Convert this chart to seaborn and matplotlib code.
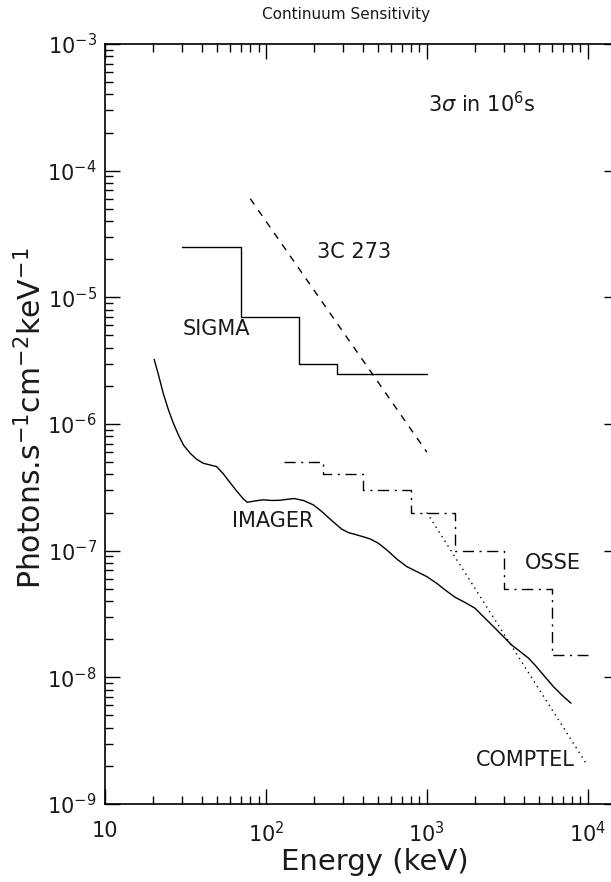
import numpy as np
import pandas as pd
import matplotlib
matplotlib.use("Agg")
import matplotlib.pyplot as plt
import seaborn as sns
from matplotlib.ticker import LogLocator, NullFormatter

# ---------------- data ----------------
imager_e = [20.2, 21.5, 23.0, 24.8, 26.6, 28.6, 30.7, 33.8, 37.1, 40.8, 44.9, 49.4,
            54.4, 59.8, 65.8, 72.4, 76.7, 85.5, 96.4, 108.6, 122.4, 137.9, 149.5,
            170.9, 197.2, 222.2, 256.3, 295.8, 325.4, 384.4, 443.6, 499.7, 563.1,
            649.7, 749.9, 865, 998, 1152, 1298, 1497, 1728, 1994, 2245, 2591, 2990,
            3370, 3796, 4277, 4705, 5301, 6115, 7058, 7874]
imager_f = [3.24e-6, 2.44e-6, 1.75e-6, 1.29e-6, 1.014e-6, 8.20e-7, 6.84e-7, 5.88e-7,
            5.27e-7, 4.90e-7, 4.75e-7, 4.61e-7, 4.04e-7, 3.45e-7, 2.96e-7, 2.56e-7,
            2.41e-7, 2.47e-7, 2.52e-7, 2.49e-7, 2.50e-7, 2.55e-7, 2.58e-7, 2.49e-7,
            2.30e-7, 2.04e-7, 1.73e-7, 1.48e-7, 1.39e-7, 1.31e-7, 1.24e-7, 1.145e-7,
            1.015e-7, 8.61e-8, 7.49e-8, 6.84e-8, 6.25e-8, 5.53e-8, 4.90e-8, 4.29e-8,
            3.90e-8, 3.51e-8, 3.02e-8, 2.52e-8, 2.10e-8, 1.80e-8, 1.60e-8, 1.42e-8,
            1.25e-8, 1.046e-8, 8.46e-9, 7.06e-9, 6.25e-9]

sigma_edges = [30, 70, 160, 275, 1000]
sigma_vals = [2.5e-5, 7e-6, 3e-6, 2.5e-6]

osse_edges = [130, 225, 400, 800, 1500, 3000, 6000, 10000]
osse_vals = [5e-7, 4e-7, 3e-7, 2e-7, 1e-7, 5e-8, 1.5e-8]

c3c273_e = [80, 1000]
c3c273_f = [6e-5, 6e-7]

comptel_e = [1000, 10000]
comptel_f = [2e-7, 2e-9]

xtick_vals = [10, 100, 1000, 10000]
xtick_labels = ["10", r"$10^2$", r"$10^3$", r"$10^4$"]
ytick_vals = [1e-9, 1e-8, 1e-7, 1e-6, 1e-5, 1e-4, 1e-3]
ytick_labels = [r"$10^{-9}$", r"$10^{-8}$", r"$10^{-7}$", r"$10^{-6}$",
                r"$10^{-5}$", r"$10^{-4}$", r"$10^{-3}$"]

# ---------------- style ----------------
sns.set_style("ticks")
plt.rcParams["font.family"] = ["DejaVu Sans"]
plt.rcParams["mathtext.fontset"] = "dejavusans"

TXT = "#1a1a1a"
W, H = 611, 882
fig = plt.figure(figsize=(W / 100, H / 100), dpi=100)
left, right, top, bottom = 105, 619, 44, 804
ax = fig.add_axes([left / W, (H - bottom) / H, (right - left) / W, (bottom - top) / H])
ax.set_xscale("log")
ax.set_yscale("log")

def steps(edges, vals):
    return pd.DataFrame({"x": edges, "y": list(vals) + [vals[-1]]})

lw = 1.0
sns.lineplot(data=pd.DataFrame({"x": imager_e, "y": imager_f}), x="x", y="y",
             ax=ax, color="black", lw=lw, sort=False, estimator=None)
sns.lineplot(data=steps(sigma_edges, sigma_vals), x="x", y="y", ax=ax,
             color="black", lw=lw, drawstyle="steps-post", sort=False, estimator=None)
sns.lineplot(data=steps(osse_edges, osse_vals), x="x", y="y", ax=ax,
             color="black", lw=lw, drawstyle="steps-post", sort=False, estimator=None,
             dashes=False, linestyle=(0, (8, 4, 1.5, 4)))
sns.lineplot(data=pd.DataFrame({"x": c3c273_e, "y": c3c273_f}), x="x", y="y", ax=ax,
             color="black", lw=lw, sort=False, estimator=None, linestyle=(0, (5, 5)))
sns.lineplot(data=pd.DataFrame({"x": comptel_e, "y": comptel_f}), x="x", y="y", ax=ax,
             color="black", lw=lw, sort=False, estimator=None, linestyle=(0, (1, 3)))

ax.set_xlim(10, 10 ** (1 + (right - left) / 160.9))
ax.set_ylim(1e-9, 1e-3)

ax.set_xticks(xtick_vals, labels=xtick_labels)
ax.set_yticks(ytick_vals, labels=ytick_labels)
ax.xaxis.set_minor_locator(LogLocator(base=10, subs=np.arange(2, 10)))
ax.yaxis.set_minor_locator(LogLocator(base=10, subs=np.arange(2, 10)))
ax.xaxis.set_minor_formatter(NullFormatter())
ax.yaxis.set_minor_formatter(NullFormatter())
ax.tick_params(which="both", direction="in", top=True, right=True, width=1.0,
               color="black", labelsize=15, labelcolor=TXT)
ax.tick_params(which="major", length=11)
ax.tick_params(which="minor", length=5.5)
ax.tick_params(axis="x", pad=12)
ax.tick_params(axis="y", pad=6)
for s in ax.spines.values():
    s.set_linewidth(1.2)
    s.set_color("black")

ax.set_xlabel("Energy (keV)", fontsize=21, color=TXT)
ax.xaxis.set_label_coords((375 - left) / (right - left), -(848 - bottom) / (bottom - top))
ax.set_ylabel(r"Photons.s$^{-1}$cm$^{-2}$keV$^{-1}$", fontsize=21.5, color=TXT, va="center")
ax.yaxis.set_label_coords((31 - left) / (right - left), (bottom - 418) / (bottom - top))
fig.text(346 / W, 1 - 14 / H, "Continuum Sensitivity", ha="center", va="center",
         fontsize=11, color=TXT)

txt = dict(color=TXT, fontsize=15, transform=ax.transData)
ax.text(1013, 3.4e-4, r"3$\sigma$ in 10$^6$s", ha="left", va="center", **txt)
ax.text(207, 2.3e-5, "3C 273", ha="left", va="center", **txt)
ax.text(30.5, 5.6e-6, "SIGMA", ha="left", va="center", **txt)
ax.text(61.5, 1.7e-7, "IMAGER", ha="left", va="center", **txt)
ax.text(4064, 8.0e-8, "OSSE", ha="left", va="center", **txt)
ax.text(2014, 2.23e-9, "COMPTEL", ha="left", va="center", **txt)

fig.savefig("out.png", dpi=100)
